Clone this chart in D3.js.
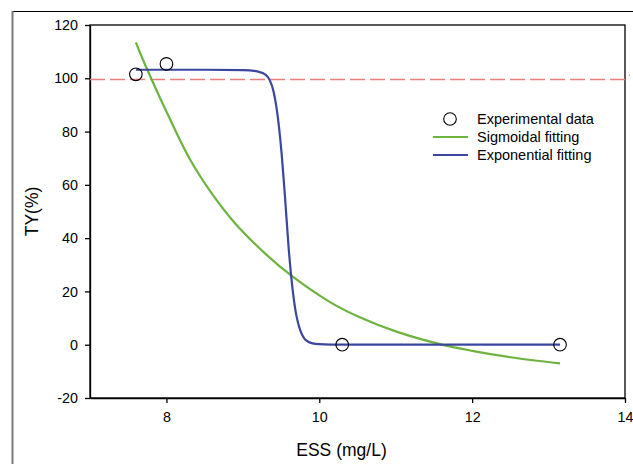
<!DOCTYPE html>
<html lang="en">
<head>
    <meta charset="UTF-8">
    <title>TY vs ESS</title>
    <style>
        body { margin: 0; background: #fff; }
        svg { display: block; font-family: "Liberation Sans", Arial, sans-serif; }
        .axis path, .axis line { stroke: #000; stroke-width: 1.3; }
    </style>
</head>
<body>
<svg width="633" height="464"></svg>
<script src="https://d3js.org/d3.v7.min.js"></script>
<script>
    // experimental points
    var essData = [7.6, 8.0, 10.3, 13.15];
    var tyData  = [101.5, 105.4, 0, 0];

    // sigmoidal fitting (green)
    var sigX = [7.6, 7.7, 7.8, 8.0, 8.3, 8.6, 8.9, 9.3, 9.64, 10.14, 10.53, 11.0, 11.58, 12.0, 12.5, 13.15];
    var sigY = [113.5, 106.5, 100, 87.5, 70, 56.5, 45.5, 34, 25.8, 16, 10.3, 5, 0.2, -2.3, -4.7, -7];

    // exponential fitting (blue)
    var expX = [7.6, 8.5, 9.0, 9.2, 9.3, 9.35, 9.4, 9.45, 9.5, 9.55, 9.6, 9.65, 9.7, 9.75, 9.8, 9.85, 9.9, 10.0, 10.3, 13.15];
    var expY = [103.2, 103.2, 103.1, 102.5, 101.3, 99.4, 95.2, 87, 74, 56, 36, 21, 11, 5.5, 2.5, 1.2, 0.6, 0.2, 0, 0];

    var refLine = 99.5;
    var xTicks = [8, 10, 12, 14];
    var yTicks = [-20, 0, 20, 40, 60, 80, 100, 120];

    var svg = d3.select("svg");
    var m = {left: 90, right: 625, top: 25, bottom: 398};

    var x = d3.scaleLinear().domain([7, 14]).range([m.left, m.right]);
    var y = d3.scaleLinear().domain([-20, 120]).range([m.bottom, m.top]);

    // outer frame (top and left edges only visible)
    svg.append("line").attr("x1", 12).attr("x2", 633).attr("y1", 11.5).attr("y2", 11.5)
        .attr("stroke", "#000").attr("stroke-width", 1.2);
    svg.append("line").attr("x1", 12.5).attr("x2", 12.5).attr("y1", 11).attr("y2", 464)
        .attr("stroke", "#7a7a7a").attr("stroke-width", 2);

    // plot box
    svg.append("rect").attr("x", m.left).attr("y", m.top)
        .attr("width", m.right - m.left).attr("height", m.bottom - m.top)
        .attr("fill", "none").attr("stroke", "#000").attr("stroke-width", 1.3);

    var plain = function(d) { return String(d); };

    svg.append("g")
        .attr("class", "axis")
        .attr("transform", "translate(0," + m.bottom + ")")
        .call(d3.axisBottom(x).tickValues(xTicks).tickFormat(plain)
            .tickSize(5).tickPadding(9).tickSizeOuter(0));

    svg.append("g")
        .attr("class", "axis")
        .attr("transform", "translate(" + m.left + ",0)")
        .call(d3.axisLeft(y).tickValues(yTicks).tickFormat(plain)
            .tickSize(5).tickPadding(7).tickSizeOuter(0));

    svg.selectAll(".axis text")
        .style("font-size", "14.3px")
        .style("font-family", "'Liberation Sans', Arial, sans-serif")
        .attr("fill", "#000");

    // axis titles
    svg.append("text")
        .attr("x", (m.left + m.right) / 2 - 16).attr("y", 456)
        .attr("text-anchor", "middle")
        .style("font-size", "17.5px")
        .text("ESS (mg/L)");

    svg.append("text")
        .attr("transform", "translate(38," + (m.top + m.bottom) / 2 + ") rotate(-90)")
        .attr("text-anchor", "middle")
        .style("font-size", "17.5px")
        .text("TY(%)");

    // dashed reference line
    svg.append("line")
        .attr("x1", m.left).attr("x2", m.right)
        .attr("y1", y(refLine)).attr("y2", y(refLine))
        .attr("stroke", "#f07c7c").attr("stroke-width", 1.5)
        .attr("stroke-dasharray", "15,5");
    svg.append("circle").attr("cx", 629.5).attr("cy", 75).attr("r", 0.6).attr("fill", "#555");

    var smooth = d3.line()
        .x(function(d) { return x(d[0]); })
        .y(function(d) { return y(d[1]); })
        .curve(d3.curveCatmullRom.alpha(0.5));

    var mono = d3.line()
        .x(function(d) { return x(d[0]); })
        .y(function(d) { return y(d[1]); })
        .curve(d3.curveMonotoneX);

    svg.append("path")
        .datum(sigX.map(function(v, i) { return [v, sigY[i]]; }))
        .attr("fill", "none").attr("stroke", "#6db33f").attr("stroke-width", 2.2)
        .attr("d", smooth);

    svg.append("path")
        .datum(expX.map(function(v, i) { return [v, expY[i]]; }))
        .attr("fill", "none").attr("stroke", "#3b479e").attr("stroke-width", 2.2)
        .attr("d", mono);

    svg.selectAll(".pt")
        .data(essData)
        .enter().append("circle")
        .attr("class", "pt")
        .attr("cx", function(d) { return x(d); })
        .attr("cy", function(d, i) { return y(tyData[i]); })
        .attr("r", 6.3)
        .attr("fill", "none").attr("stroke", "#000").attr("stroke-width", 1.1);

    // legend
    var legend = svg.append("g").attr("transform", "translate(433,119)");
    legend.append("circle").attr("cx", 17).attr("cy", 0).attr("r", 6.3)
        .attr("fill", "none").attr("stroke", "#000").attr("stroke-width", 1.1);
    legend.append("line").attr("x1", 0).attr("x2", 35).attr("y1", 18).attr("y2", 18)
        .attr("stroke", "#6db33f").attr("stroke-width", 2.2);
    legend.append("line").attr("x1", 0).attr("x2", 35).attr("y1", 36).attr("y2", 36)
        .attr("stroke", "#3b479e").attr("stroke-width", 2.2);
    var labels = ["Experimental data", "Sigmoidal fitting", "Exponential fitting"];
    legend.selectAll(".lbl")
        .data(labels)
        .enter().append("text")
        .attr("x", 44)
        .attr("y", function(d, i) { return i * 18 + 5; })
        .style("font-size", "14.5px")
        .text(function(d) { return d; });
</script>
</body>
</html>
